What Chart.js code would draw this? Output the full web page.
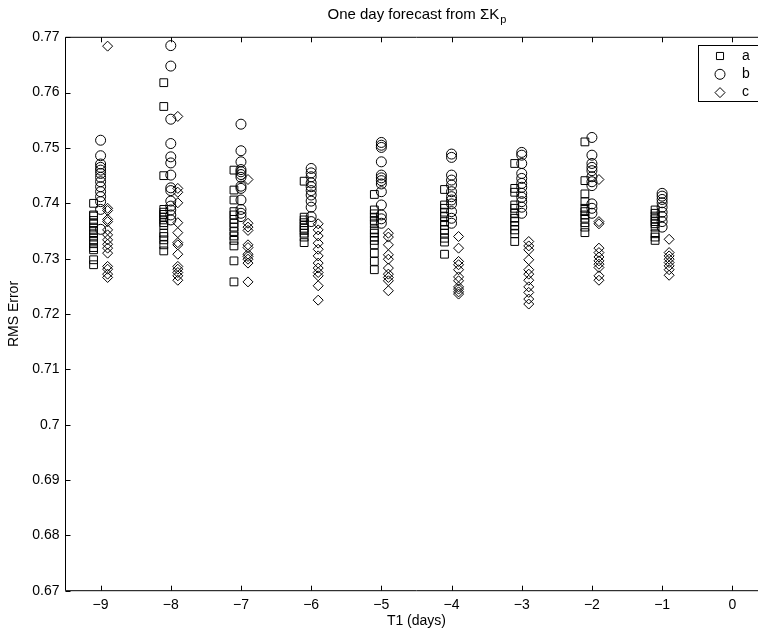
<!DOCTYPE html>
<html>
<head>
<meta charset="utf-8">
<script src="https://cdn.jsdelivr.net/npm/chart.js@4/dist/chart.umd.min.js"></script>
<style>
  html, body { margin: 0; padding: 0; background: #fff; overflow: hidden; }
  #wrap { width: 800px; height: 634px; }
</style>
</head>
<body>
<div id="wrap"><canvas id="rmsChart" width="800" height="634"></canvas></div>
<script>
// forecast start offsets (days)
var days = [-9, -8, -7, -6, -5, -4, -3, -2, -1];

// RMS error per run, one list per start day
var seriesA = [
  [0.7400, 0.7379, 0.7377, 0.7369, 0.7363, 0.7357, 0.7351, 0.7345, 0.7339, 0.7333, 0.7327, 0.7320, 0.7316, 0.7298, 0.7289],
  [0.7618, 0.7575, 0.7450, 0.7389, 0.7384, 0.7380, 0.7375, 0.7370, 0.7365, 0.7360, 0.7346, 0.7340, 0.7334, 0.7325, 0.7314],
  [0.7460, 0.7424, 0.7406, 0.7385, 0.7379, 0.7371, 0.7364, 0.7357, 0.7349, 0.7341, 0.7333, 0.7323, 0.7296, 0.7258],
  [0.7440, 0.7375, 0.7370, 0.7365, 0.7360, 0.7355, 0.7351, 0.7346, 0.7339, 0.7329],
  [0.7416, 0.7388, 0.7381, 0.7375, 0.7369, 0.7363, 0.7352, 0.7346, 0.7339, 0.7333, 0.7325, 0.7310, 0.7295, 0.7280],
  [0.7425, 0.7397, 0.7391, 0.7384, 0.7376, 0.7367, 0.7360, 0.7352, 0.7346, 0.7337, 0.7330, 0.7308],
  [0.7472, 0.7427, 0.7420, 0.7397, 0.7391, 0.7382, 0.7373, 0.7367, 0.7360, 0.7352, 0.7345, 0.7331],
  [0.7511, 0.7441, 0.7417, 0.7403, 0.7391, 0.7385, 0.7379, 0.7373, 0.7365, 0.7357, 0.7347],
  [0.7388, 0.7382, 0.7377, 0.7372, 0.7367, 0.7363, 0.7357, 0.7345, 0.7339, 0.7333]
];
var seriesB = [
  [0.7514, 0.7486, 0.7471, 0.7465, 0.7460, 0.7454, 0.7447, 0.7439, 0.7430, 0.7421, 0.7412, 0.7403, 0.7389, 0.7353],
  [0.7685, 0.7648, 0.7552, 0.7508, 0.7484, 0.7473, 0.7451, 0.7428, 0.7423, 0.7404, 0.7395, 0.7388, 0.7379, 0.7370],
  [0.7543, 0.7495, 0.7475, 0.7461, 0.7457, 0.7452, 0.7447, 0.7431, 0.7427, 0.7406, 0.7389, 0.7382, 0.7376],
  [0.7463, 0.7455, 0.7448, 0.7437, 0.7430, 0.7423, 0.7415, 0.7404, 0.7393, 0.7376, 0.7367],
  [0.7510, 0.7505, 0.7501, 0.7475, 0.7451, 0.7446, 0.7441, 0.7435, 0.7421, 0.7397, 0.7379, 0.7372, 0.7364],
  [0.7489, 0.7483, 0.7451, 0.7442, 0.7433, 0.7421, 0.7412, 0.7406, 0.7399, 0.7385, 0.7373, 0.7364],
  [0.7492, 0.7487, 0.7472, 0.7454, 0.7445, 0.7436, 0.7429, 0.7418, 0.7411, 0.7403, 0.7393, 0.7382],
  [0.7519, 0.7487, 0.7472, 0.7465, 0.7459, 0.7448, 0.7439, 0.7432, 0.7399, 0.7391, 0.7382],
  [0.7418, 0.7413, 0.7407, 0.7401, 0.7393, 0.7384, 0.7376, 0.7367, 0.7357]
];
var seriesC = [
  [0.7684, 0.7391, 0.7387, 0.7371, 0.7367, 0.7352, 0.7343, 0.7334, 0.7326, 0.7319, 0.7310, 0.7286, 0.7281, 0.7272, 0.7266],
  [0.7557, 0.7427, 0.7420, 0.7401, 0.7365, 0.7347, 0.7329, 0.7325, 0.7308, 0.7286, 0.7281, 0.7275, 0.7269, 0.7261],
  [0.7443, 0.7364, 0.7357, 0.7351, 0.7325, 0.7320, 0.7308, 0.7304, 0.7299, 0.7292, 0.7258],
  [0.7363, 0.7352, 0.7341, 0.7328, 0.7317, 0.7305, 0.7292, 0.7283, 0.7275, 0.7269, 0.7251, 0.7225],
  [0.7346, 0.7339, 0.7325, 0.7307, 0.7299, 0.7283, 0.7272, 0.7266, 0.7260, 0.7242],
  [0.7340, 0.7319, 0.7295, 0.7289, 0.7280, 0.7267, 0.7260, 0.7249, 0.7245, 0.7240, 0.7236],
  [0.7331, 0.7323, 0.7316, 0.7298, 0.7280, 0.7272, 0.7261, 0.7249, 0.7239, 0.7227, 0.7218],
  [0.7443, 0.7367, 0.7363, 0.7319, 0.7311, 0.7303, 0.7296, 0.7290, 0.7284, 0.7269, 0.7261],
  [0.7335, 0.7311, 0.7305, 0.7299, 0.7293, 0.7287, 0.7280, 0.7270]
];

var xTicks = [-9, -8, -7, -6, -5, -4, -3, -2, -1, 0];
var xTickLabels = ['\u22129', '\u22128', '\u22127', '\u22126', '\u22125', '\u22124', '\u22123', '\u22122', '\u22121', '0'];
var yTicks = [0.67, 0.68, 0.69, 0.70, 0.71, 0.72, 0.73, 0.74, 0.75, 0.76, 0.77];
var yTickLabels = ['0.67', '0.68', '0.69', '0.7', '0.71', '0.72', '0.73', '0.74', '0.75', '0.76', '0.77'];

var FONT = '"Liberation Sans", Arial, Helvetica, sans-serif';

// spread the three series a little around each day
function points(series, shift) {
  var out = [];
  days.forEach(function (d, i) {
    series[i].forEach(function (v) { out.push({ x: d + shift, y: v }); });
  });
  return out;
}

function markerSet(label, series, shift, style, radius, legendRadius) {
  return {
    label: label,
    data: points(series, shift),
    pointStyle: style,
    pointRadius: radius,
    pointHoverRadius: radius,
    pointBorderWidth: 1,
    borderColor: '#000',
    backgroundColor: 'rgba(0,0,0,0)',
    showLine: false,
    legendRadius: legendRadius
  };
}

// box, inward tick marks, title and legend
var matlabFrame = {
  id: 'matlabFrame',
  afterDatasetsDraw: function (chart) {
    var ctx = chart.ctx, a = chart.chartArea;
    var xs = chart.scales.x, ys = chart.scales.y;
    var tl = 5;
    ctx.save();
    ctx.strokeStyle = '#000';
    ctx.lineWidth = 1;
    ctx.beginPath();
    ctx.rect(a.left, a.top, a.right - a.left, a.bottom - a.top);
    xTicks.forEach(function (v) {
      var px = Math.round(xs.getPixelForValue(v)) + 0.5;
      ctx.moveTo(px, a.bottom); ctx.lineTo(px, a.bottom - tl);
      ctx.moveTo(px, a.top); ctx.lineTo(px, a.top + tl);
    });
    yTicks.forEach(function (v) {
      var py = Math.round(ys.getPixelForValue(v)) + 0.5;
      ctx.moveTo(a.left, py); ctx.lineTo(a.left + tl, py);
      ctx.moveTo(a.right, py); ctx.lineTo(a.right - tl, py);
    });
    ctx.stroke();
    ctx.restore();
  },
  afterDraw: function (chart) {
    var ctx = chart.ctx, a = chart.chartArea;
    ctx.save();
    ctx.fillStyle = '#000';

    // title with subscript
    var main = 'One day forecast from \u03a3K', sub = 'p';
    ctx.font = '15px ' + FONT;
    var wMain = ctx.measureText(main).width;
    ctx.font = '11px ' + FONT;
    var wSub = ctx.measureText(sub).width;
    var cx = (a.left + a.right) / 2;
    var x0 = cx - (wMain + wSub) / 2;
    ctx.textBaseline = 'alphabetic';
    ctx.textAlign = 'left';
    ctx.font = '15px ' + FONT;
    ctx.fillText(main, x0, 18.5);
    ctx.font = '11px ' + FONT;
    ctx.fillText(sub, x0 + wMain + 1, 23);

    // legend box in the top right corner
    var bx = 698.5, by = 45.5, bw = 64, bh = 56;
    ctx.fillStyle = '#fff';
    ctx.fillRect(bx, by, bw, bh);
    ctx.strokeStyle = '#000';
    ctx.lineWidth = 1;
    ctx.strokeRect(bx, by, bw, bh);
    ctx.font = '14px ' + FONT;
    ctx.textBaseline = 'middle';
    chart.data.datasets.forEach(function (ds, i) {
      var ly = 56 + i * 18.3;
      ctx.fillStyle = 'rgba(0,0,0,0)';
      ctx.strokeStyle = '#000';
      ctx.lineWidth = 1;
      Chart.helpers.drawPoint(ctx, {
        pointStyle: ds.pointStyle,
        radius: ds.legendRadius,
        borderWidth: 1
      }, 720, ly);
      ctx.fillStyle = '#000';
      ctx.fillText(ds.label, 742, ly);
    });
    ctx.restore();
  }
};

var ctx = document.getElementById('rmsChart').getContext('2d');
var chart = new Chart(ctx, {
  type: 'scatter',
  data: {
    datasets: [
      markerSet('a', seriesA, -0.1, 'rect', 5.5, 5),
      markerSet('b', seriesB, 0, 'circle', 5, 5),
      markerSet('c', seriesC, 0.1, 'rectRot', 5, 5)
    ]
  },
  options: {
    responsive: false,
    animation: false,
    devicePixelRatio: 1,
    layout: { padding: { top: 37.3, right: 32.6, bottom: 0, left: 0 } },
    plugins: {
      legend: { display: false },
      tooltip: { enabled: false },
      title: { display: false }
    },
    scales: {
      x: {
        type: 'linear',
        min: -9.5,
        max: 0.5,
        afterBuildTicks: function (s) {
          s.ticks = xTicks.map(function (v) { return { value: v }; });
        },
        afterFit: function (s) { s.height = 43.3; },
        grid: { display: false, drawTicks: false },
        border: { display: false },
        ticks: {
          color: '#000',
          font: { family: FONT, size: 14 },
          padding: 6,
          maxRotation: 0,
          autoSkip: false,
          callback: function (v) { return xTickLabels[xTicks.indexOf(v)]; }
        },
        title: {
          display: true,
          text: 'T1 (days)',
          color: '#000',
          font: { family: FONT, size: 14 },
          padding: { top: 0, bottom: 4 }
        }
      },
      y: {
        type: 'linear',
        min: 0.67,
        max: 0.77,
        afterBuildTicks: function (s) {
          s.ticks = yTicks.map(function (v) { return { value: v }; });
        },
        afterFit: function (s) { s.width = 65.5; },
        grid: { display: false, drawTicks: false },
        border: { display: false },
        ticks: {
          color: '#000',
          font: { family: FONT, size: 14 },
          padding: 6,
          autoSkip: false,
          callback: function (v) {
            var i = yTicks.findIndex(function (t) { return Math.abs(t - v) < 1e-9; });
            return yTickLabels[i];
          }
        },
        title: {
          display: true,
          text: 'RMS Error',
          color: '#000',
          font: { family: FONT, size: 14 },
          padding: { top: 6, bottom: 0 }
        }
      }
    }
  },
  plugins: [matlabFrame]
});
</script>
</body>
</html>
